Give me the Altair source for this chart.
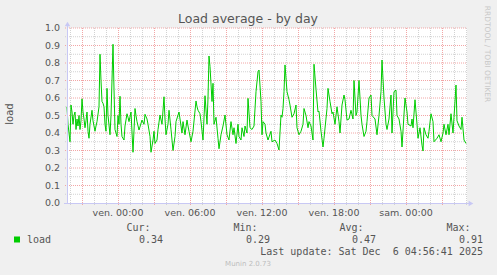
import altair as alt
import pandas as pd
import numpy as np

# ---------------- data ----------------
window_start = "2025-12-04 19:45"
window_end = "2025-12-06 05:05"

# minutes since window start (Thu 19:45) and 5-min load average
minutes = [0, 5, 15, 20, 25, 30, 35, 40, 45, 50, 55, 60, 65, 70, 75, 80, 85, 90, 95, 100,
           105, 110, 115, 125, 130, 140, 145, 150, 160, 165, 170, 175, 180, 185, 190, 195, 200, 205, 215, 220,
           230, 235, 240, 250, 255, 260, 265, 270, 275, 285, 290, 300, 305, 310, 320, 330, 340, 345, 350, 360,
           375, 385, 390, 400, 405, 415, 420, 430, 435, 440, 450, 455, 465, 475, 485, 490, 495, 505, 510, 520,
           530, 540, 545, 560, 565, 575, 580, 590, 600, 605, 610, 620, 630, 645, 650, 655, 665, 670, 680, 690,
           700, 705, 710, 715, 725, 730, 735, 745, 755, 760, 770, 780, 790, 800, 810, 820, 830, 835, 845, 855,
           860, 870, 875, 885, 890, 900, 905, 915, 925, 935, 945, 955, 960, 970, 975, 980, 990, 995, 1005, 1020,
           1025, 1040, 1050, 1060, 1070, 1075, 1080, 1085, 1090, 1100, 1110, 1115, 1125, 1135, 1145, 1150, 1160, 1170, 1180, 1185,
           1195, 1205, 1210, 1220, 1230, 1235, 1245, 1255, 1260, 1270, 1280, 1285, 1300, 1305, 1315, 1325, 1330, 1340, 1350, 1360,
           1365, 1375, 1385, 1390, 1400, 1410, 1420, 1430, 1435, 1445, 1450, 1460, 1470, 1475, 1485, 1495, 1500, 1510, 1520, 1525,
           1540, 1550, 1560, 1570, 1575, 1585, 1595, 1600, 1610, 1620, 1625, 1635, 1645, 1650, 1660, 1670, 1675, 1690, 1700, 1705,
           1720, 1725, 1730, 1740, 1750, 1755, 1765, 1775, 1780, 1785, 1795, 1805, 1810, 1820, 1830, 1835, 1850, 1860, 1870, 1880,
           1885, 1895, 1905, 1910, 1920, 1930, 1935, 1945, 1950, 1960, 1970, 1975, 1985, 1995]
load = [0.55, 0.45, 0.35, 0.56, 0.52, 0.45, 0.50, 0.52, 0.42, 0.48, 0.44, 0.50, 0.42, 0.47, 0.595, 0.52, 0.48, 0.43, 0.47, 0.52,
        0.41, 0.37, 0.45, 0.53, 0.47, 0.41, 0.44, 0.465, 0.55, 0.85, 0.70, 0.58, 0.57, 0.55, 0.45, 0.41, 0.655, 0.50, 0.39, 0.50,
        0.907, 0.65, 0.42, 0.38, 0.50, 0.45, 0.61, 0.45, 0.38, 0.36, 0.44, 0.51, 0.49, 0.465, 0.52, 0.29, 0.54, 0.50, 0.465, 0.417,
        0.474, 0.45, 0.507, 0.48, 0.45, 0.38, 0.29, 0.36, 0.41, 0.34, 0.36, 0.42, 0.503, 0.45, 0.607, 0.48, 0.39, 0.45, 0.53, 0.42,
        0.30, 0.38, 0.465, 0.52, 0.48, 0.40, 0.465, 0.39, 0.474, 0.44, 0.41, 0.35, 0.41, 0.583, 0.55, 0.53, 0.51, 0.465, 0.36, 0.613,
        0.45, 0.60, 0.84, 0.78, 0.58, 0.684, 0.45, 0.49, 0.37, 0.31, 0.39, 0.44, 0.503, 0.39, 0.36, 0.465, 0.39, 0.43, 0.34, 0.45,
        0.38, 0.36, 0.43, 0.38, 0.44, 0.40, 0.598, 0.43, 0.42, 0.44, 0.636, 0.75, 0.76, 0.58, 0.39, 0.465, 0.45, 0.40, 0.36, 0.41,
        0.35, 0.36, 0.34, 0.303, 0.503, 0.49, 0.54, 0.636, 0.789, 0.636, 0.59, 0.56, 0.49, 0.51, 0.56, 0.43, 0.39, 0.41, 0.45, 0.54,
        0.50, 0.43, 0.465, 0.44, 0.36, 0.793, 0.65, 0.52, 0.525, 0.41, 0.32, 0.37, 0.54, 0.655, 0.58, 0.51, 0.52, 0.45, 0.55, 0.465,
        0.40, 0.56, 0.617, 0.59, 0.474, 0.48, 0.53, 0.48, 0.70, 0.50, 0.52, 0.70, 0.50, 0.45, 0.38, 0.41, 0.465, 0.60, 0.617, 0.50,
        0.48, 0.39, 0.50, 0.636, 0.817, 0.60, 0.45, 0.42, 0.48, 0.617, 0.40, 0.636, 0.645, 0.50, 0.48, 0.41, 0.32, 0.60, 0.52, 0.45,
        0.44, 0.48, 0.43, 0.59, 0.45, 0.37, 0.43, 0.33, 0.297, 0.43, 0.39, 0.37, 0.41, 0.51, 0.465, 0.35, 0.37, 0.39, 0.35, 0.40,
        0.45, 0.39, 0.45, 0.39, 0.51, 0.40, 0.49, 0.674, 0.47, 0.44, 0.42, 0.49, 0.36, 0.34]

tick_times = ["2025-12-05 00:00", "2025-12-05 06:00", "2025-12-05 12:00", "2025-12-05 18:00", "2025-12-06 00:00"]
tick_labels = ["ven. 00:00", "ven. 06:00", "ven. 12:00", "ven. 18:00", "sam. 00:00"]
y_ticks = [0.0, 0.1, 0.2, 0.3, 0.4, 0.5, 0.6, 0.7, 0.8, 0.9, 1.0]
y_tick_labels = ["0.0", "0.1", "0.2", "0.3", "0.4", "0.5", "0.6", "0.7", "0.8", "0.9", "1.0"]

series_name = "load"
stat_heads = ["Cur:", "Min:", "Avg:", "Max:"]
stat_values = ["0.34", "0.29", "0.47", "0.91"]
title_text = "Load average - by day"
y_title = "load"
last_update = "Last update: Sat Dec \u00a06 04:56:41 2025"
footer = "Munin 2.0.73"
side_text = "RRDTOOL / TOBI OETIKER"

# ---------------- frames ----------------
fmt = "%Y-%m-%dT%H:%M:%S"
t0 = pd.Timestamp(window_start)
df = pd.DataFrame({"time": (t0 + pd.to_timedelta(minutes, unit="min")).strftime(fmt), "load": load})

hours = pd.date_range("2025-12-04 20:00", "2025-12-06 05:00", freq="h")
gx = pd.DataFrame({"time": hours.strftime(fmt), "major": (hours.hour % 3 == 0)})
gx_minor = gx[~gx["major"]]
gx_major = gx[gx["major"]]

yv = np.round(np.arange(1, 21) * 0.05, 2)
gy = pd.DataFrame({"v": yv, "major": [int(round(v * 20)) % 2 == 0 for v in yv]})
gy_minor = gy[~gy["major"]]
gy_major = gy[gy["major"]]

xt = pd.DataFrame({"time": pd.to_datetime(tick_times).strftime(fmt), "label": tick_labels})
yt = pd.DataFrame({"v": y_ticks, "label": y_tick_labels})

xs = alt.Scale(domain=[alt.DateTime(year=2025, month=12, date=4, hours=19, minutes=45),
                       alt.DateTime(year=2025, month=12, date=6, hours=5, minutes=5)])
ys = alt.Scale(domain=[0, 1], nice=False, zero=True)

X = alt.X("time:T", scale=xs, axis=None)
Y = alt.Y("v:Q", scale=ys, axis=None)

GRAY = "#d2d2d2"
RED = "#f2a6a6"
AXC = "#c8c8f4"
TXT = "#555555"
SANS = "DejaVu Sans"
MONO = "DejaVu Sans Mono"

vminor = alt.Chart(gx_minor).mark_rule(color=GRAY, strokeWidth=1, strokeDash=[1, 1], xOffset=0.5).encode(
    x=X, y=alt.value(0), y2=alt.value(178))
vmajor = alt.Chart(gx_major).mark_rule(color=RED, strokeWidth=1, strokeDash=[1, 1], xOffset=0.5).encode(
    x=X, y=alt.value(0), y2=alt.value(178))
hminor = alt.Chart(gy_minor).mark_rule(color=GRAY, strokeWidth=1, strokeDash=[1, 1]).encode(
    y=Y, x=alt.value(-2), x2=alt.value(400))
hmajor = alt.Chart(gy_major).mark_rule(color=RED, strokeWidth=1, strokeDash=[1, 1]).encode(
    y=Y, x=alt.value(-2), x2=alt.value(400))

line = alt.Chart(df).mark_line(color="#00cc00", strokeWidth=1).encode(
    x=X, y=alt.Y("load:Q", scale=ys, axis=None))

one = pd.DataFrame({"t": [""]})
xaxis = alt.Chart(one).mark_rule(color=AXC, strokeWidth=1).encode(
    x=alt.value(-3), x2=alt.value(403), y=alt.value(175.5))
yaxis = alt.Chart(one).mark_rule(color=AXC, strokeWidth=1).encode(
    x=alt.value(0.5), y=alt.value(-4), y2=alt.value(175))
arrow_up = alt.Chart(one).mark_point(shape="triangle-up", filled=True, color=AXC, size=30, opacity=1).encode(
    x=alt.value(0.5), y=alt.value(-4))
arrow_right = alt.Chart(one).mark_point(shape="triangle-right", filled=True, color=AXC, size=30, opacity=1).encode(
    x=alt.value(404), y=alt.value(175.5))

xlab = alt.Chart(xt).mark_text(font=SANS, fontSize=9.5, color=TXT, align="center", baseline="middle").encode(
    x=X, y=alt.value(185), text="label:N")
ylab = alt.Chart(yt).mark_text(font=SANS, fontSize=9.5, color=TXT, align="right", baseline="middle").encode(
    y=Y, x=alt.value(-7), text="label:N")


def txt(s, x, y, **kw):
    return alt.Chart(pd.DataFrame({"t": [s]})).mark_text(**kw).encode(
        x=alt.value(x), y=alt.value(y), text="t:N")


layers = [vminor, hminor, vmajor, hmajor, line, xaxis, yaxis, arrow_up, arrow_right, xlab, ylab,
          txt(title_text, 181, -9, font=SANS, fontSize=12.5, color=TXT, align="center", baseline="middle"),
          txt(y_title, -57, 86, font=SANS, fontSize=10, color=TXT, align="center", baseline="middle", angle=270),
          txt(side_text, 420, 26, font=SANS, fontSize=7.5, color="#c8c8c8", align="center", baseline="middle", angle=90),
          alt.Chart(one).mark_square(color="#00cc00", size=36, opacity=1).encode(x=alt.value(-50), y=alt.value(211.5)),
          txt(series_name, -40, 211.5, font=MONO, fontSize=10, color=TXT, align="left", baseline="middle"),
          txt(last_update, 416, 224, font=MONO, fontSize=10, color=TXT, align="right", baseline="middle"),
          txt(footer, 181, 235.5, font=SANS, fontSize=7, color="#bdbdbd", align="center", baseline="middle"),
          ]
head_ends = [83.5, 190.5, 296.5, 403.5]
val_ends = [96, 203, 309, 416]
for h, v, he, ve in zip(stat_heads, stat_values, head_ends, val_ends):
    layers.append(txt(h, he, 199.5, font=MONO, fontSize=10, color=TXT, align="right", baseline="middle"))
    layers.append(txt(v, ve, 211.5, font=MONO, fontSize=10, color=TXT, align="right", baseline="middle"))

chart = alt.layer(*layers).properties(
    width=400, height=175,
    autosize=alt.AutoSizeParams(type="none"),
    padding={"left": 67, "top": 28, "right": 30, "bottom": 72},
    background="#f0f0f0",
).configure_view(fill="white", strokeWidth=0)

chart.save("out.html", embed_options={"renderer": "svg", "actions": False})
